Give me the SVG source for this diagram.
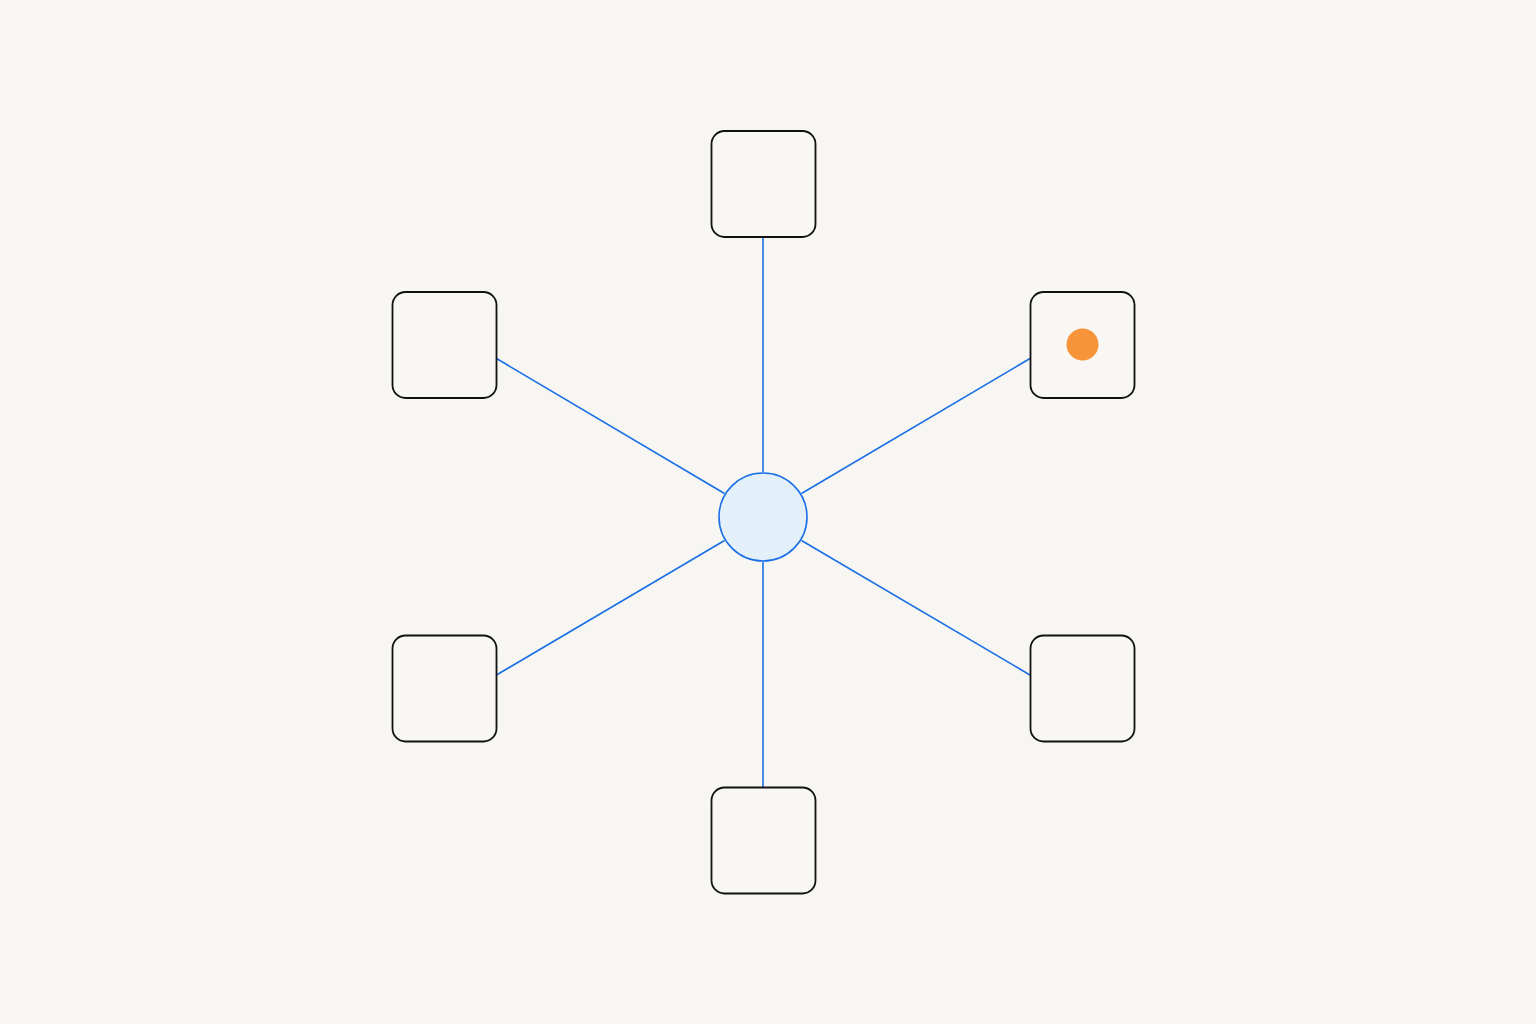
<svg xmlns="http://www.w3.org/2000/svg" width="1536" height="1024" viewBox="0 0 1536 1024">
  <style>
    .box { fill: #f8f7f3; stroke: #111111; stroke-width: 1.8; }
    .edge { stroke: #1a6fe6; stroke-width: 1.6; fill: none; }
    .hub { fill: #e3eff9; stroke: #1a6fe6; stroke-width: 1.6; }
  </style>
  <rect x="0" y="0" width="1536" height="1024" fill="#f7f6f2"/>
  <g id="connectors">
    <line class="edge" x1="763" y1="472" x2="763" y2="237"/>
    <line class="edge" x1="763" y1="562" x2="763" y2="788"/>
    <line class="edge" x1="724.5" y1="493.5" x2="496.5" y2="358.5"/>
    <line class="edge" x1="801.5" y1="493.5" x2="1030" y2="358.5"/>
    <line class="edge" x1="724.5" y1="540.5" x2="496.5" y2="675"/>
    <line class="edge" x1="801.5" y1="540.5" x2="1030" y2="675"/>
  </g>
  <g id="node-top">
    <rect class="box" x="711.5" y="131" width="104" height="106" rx="13"/>
  </g>
  <g id="node-top-left">
    <rect class="box" x="392.5" y="292" width="104" height="106" rx="13"/>
  </g>
  <g id="node-top-right">
    <rect class="box" x="1030.5" y="292" width="104" height="106" rx="13"/>
    <circle cx="1082.5" cy="344.5" r="16" fill="#f7943a"/>
  </g>
  <g id="node-bottom-left">
    <rect class="box" x="392.5" y="635.5" width="104" height="106" rx="13"/>
  </g>
  <g id="node-bottom-right">
    <rect class="box" x="1030.5" y="635.5" width="104" height="106" rx="13"/>
  </g>
  <g id="node-bottom">
    <rect class="box" x="711.5" y="787.5" width="104" height="106" rx="13"/>
  </g>
  <g id="node-hub">
    <circle class="hub" cx="763" cy="517" r="44"/>
  </g>
</svg>
